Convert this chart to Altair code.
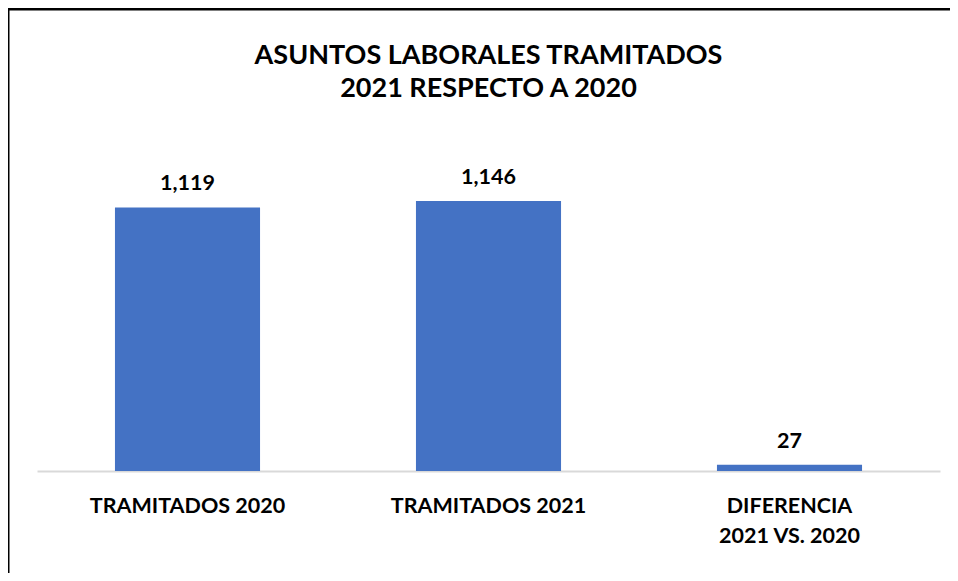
import altair as alt
import pandas as pd

categories = ["TRAMITADOS 2020", "TRAMITADOS 2021", "DIFERENCIA\n2021 VS. 2020"]
values = [1119, 1146, 27]
labels = ["1,119", "1,146", "27"]
title_lines = ["ASUNTOS LABORALES TRAMITADOS", "2021 RESPECTO A 2020"]

df = pd.DataFrame({"cat": categories, "val": values, "lab": labels})
FONT = "Lato"

base = alt.Chart(df).encode(
    x=alt.X(
        "cat:N",
        sort=categories,
        title=None,
        scale=alt.Scale(paddingInner=0.518, paddingOuter=0.259),
        axis=alt.Axis(
            labelAngle=0,
            labelFont=FONT,
            labelFontSize=21.5,
            labelFontWeight="bold",
            labelColor="#000000",
            labelPadding=35,
            labelLineHeight=30,
            labelLimit=0,
            labelBaseline="middle",
            labelExpr="split(datum.label, '\\n')",
            ticks=False,
            domainColor="#d9d9d9",
            domainWidth=2,
        ),
    ),
    y=alt.Y("val:Q", title=None, scale=alt.Scale(domain=[0, 1456]), axis=None),
)

bars = base.mark_bar(color="#4472C4")
text = base.mark_text(
    font=FONT, fontSize=21.5, fontWeight="bold", color="#000000", baseline="bottom", dy=-12
).encode(text="lab:N")

frame_df = pd.DataFrame({"k": [0]})
top_border = alt.Chart(frame_df).mark_rule(color="#000000", strokeWidth=3).encode(
    x=alt.value(-29), x2=alt.value(925), y=alt.value(-119)
)
left_border = alt.Chart(frame_df).mark_rule(color="#000000", strokeWidth=3).encode(
    x=alt.value(-29), y=alt.value(-120), y2=alt.value(460)
)

chart = (
    alt.layer(bars, text, top_border, left_border)
    .properties(
        width=903,
        height=343,
        view=alt.ViewBackground(stroke="transparent", strokeWidth=0),
        autosize=alt.AutoSizeParams(type="none"),
        padding={"left": 29, "top": 120, "right": 10, "bottom": 102},
        title=alt.TitleParams(
            text=title_lines,
            font=FONT,
            fontSize=27,
            fontWeight="bold",
            color="#000000",
            lineHeight=33,
            anchor="middle",
            frame="group",
            offset=0,
            dy=96,
        ),
    )
    .configure_view(stroke="transparent", strokeWidth=0)
    .configure(background="white")
)

chart.save("out.html", embed_options={"renderer": "svg", "actions": False})
